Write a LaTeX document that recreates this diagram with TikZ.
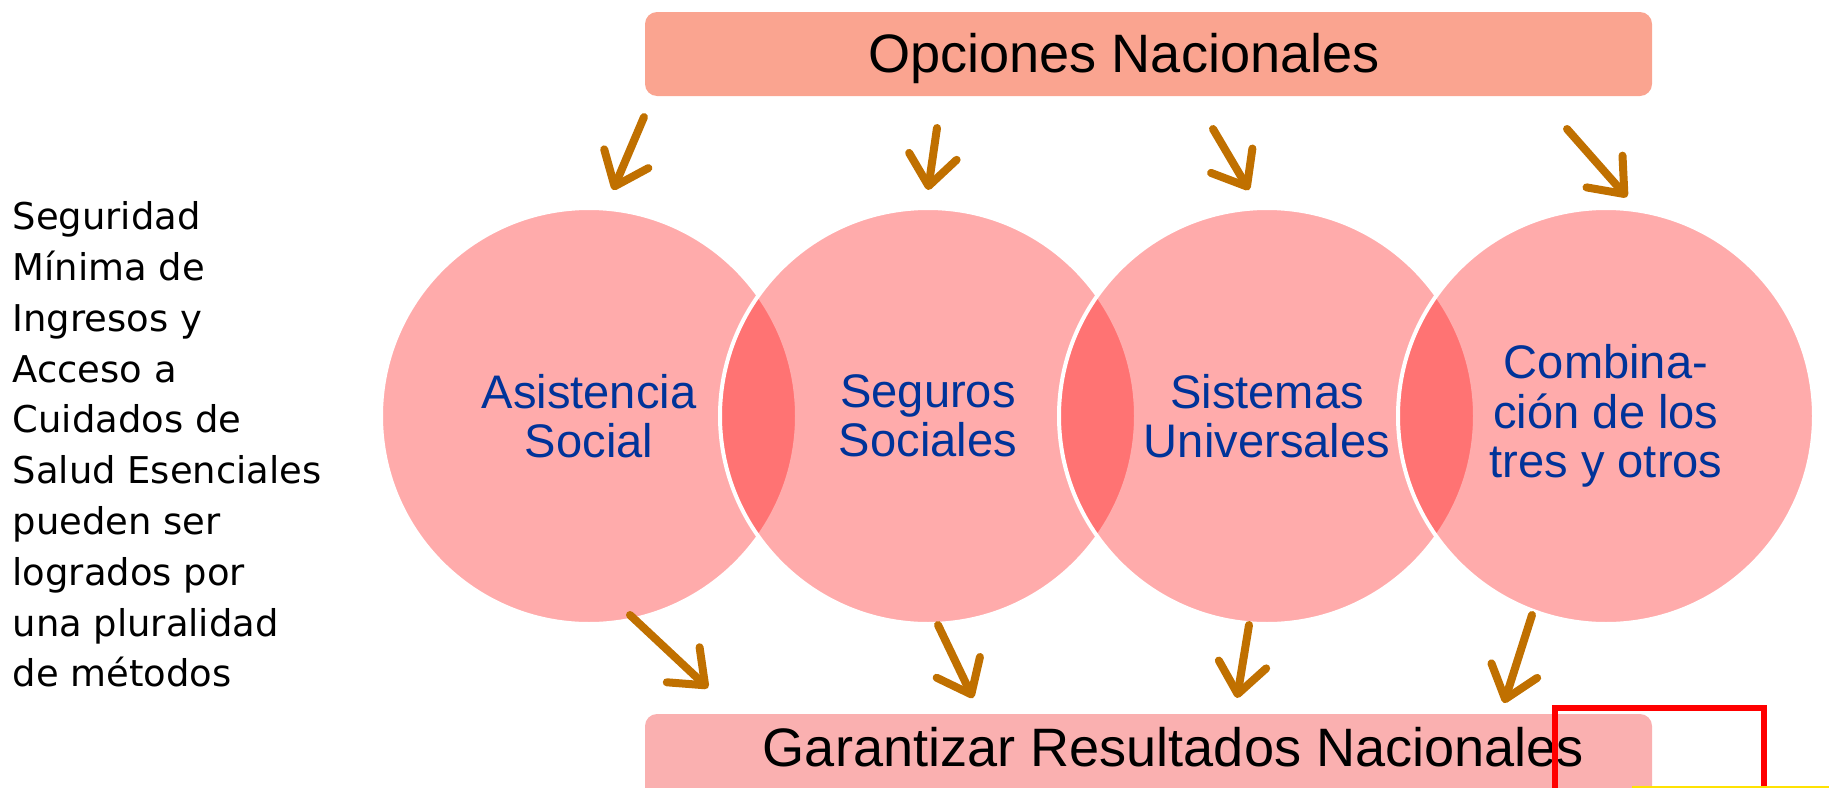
\documentclass[tikz,border=0pt]{standalone}
\usepackage{fontspec}
\setmainfont{Liberation Sans}
\newfontfamily\sidefont{DejaVu Sans}
\usetikzlibrary{positioning,arrows.meta}

\definecolor{marron}{RGB}{192,112,0}
\definecolor{azul}{RGB}{0,51,153}
\definecolor{salmon}{RGB}{250,164,144}
\definecolor{rosado}{RGB}{250,176,176}

\begin{document}
\begin{tikzpicture}[
    caja/.style   ={rectangle, rounded corners=0.12cm, minimum width=10.07cm, inner sep=0pt},
    titulo/.style ={anchor=base, inner sep=0pt, font=\fontsize{15.4}{17}\selectfont},
    metodo/.style ={circle, minimum size=4.16cm, inner sep=0pt, outer sep=0pt,
                    fill=red, fill opacity=0.33, text opacity=1,
                    draw=white, draw opacity=1, line width=0.4mm,
                    text=azul, align=center, font=\fontsize{13.4}{14.1}\selectfont},
    flecha/.style ={draw=marron, line width=0.8mm, line cap=round,
                    -{Straight Barb[length=3mm,width=4.8mm,round]}}
  ]
  \clip (0,0) rectangle (18.29,7.87);

  % Define nodes
  \node[caja, fill=salmon, minimum height=0.84cm]  (opciones)  at (11.485,7.33) {};
  \node[titulo]                                    (opctxt)    at (11.24,7.15)  {Opciones Nacionales};
  \node[caja, fill=rosado, minimum height=1.0cm]   (garantia)  at (11.485,0.23) {};
  \node[titulo]                                    (gartxt)    at (11.735,0.21) {Garantizar Resultados Nacionales};

  \node[metodo]                                    (asist)     at (5.89,3.71)   {Asistencia\\Social};
  \node[metodo, right=-0.77cm of asist]            (seguros)   {Seguros\\Sociales};
  \node[metodo, right=-0.77cm of seguros]          (sistemas)  {Sistemas\\Universales};
  \node[metodo, right=-0.77cm of sistemas]         (combi)     {Combina-\\ción de los\\tres y otros};

  \node[anchor=north west, inner sep=0pt, align=left,
        font=\sidefont\fontsize{10.5}{14.45}\selectfont] (lado) at (0.12,5.86)
       {Seguridad\\Mínima de\\Ingresos y\\Acceso a\\Cuidados de\\Salud Esenciales\\pueden ser\\logrados por\\una pluralidad\\de métodos};

  % Arrow ends
  \coordinate (t1a) at (6.44,6.70);  \coordinate (t1b) at (6.13,5.97);
  \coordinate (t2a) at (9.37,6.59);  \coordinate (t2b) at (9.28,5.97);
  \coordinate (t3a) at (12.13,6.58); \coordinate (t3b) at (12.49,5.97);
  \coordinate (t4a) at (15.67,6.58); \coordinate (t4b) at (16.27,5.90);
  \coordinate (b1a) at (6.30,1.72);  \coordinate (b1b) at (7.08,0.99);
  \coordinate (b2a) at (9.38,1.62);  \coordinate (b2b) at (9.73,0.89);
  \coordinate (b3a) at (12.49,1.62); \coordinate (b3b) at (12.37,0.89);
  \coordinate (b4a) at (15.32,1.72); \coordinate (b4b) at (15.04,0.84);

  % Connect the nodes
  \draw[flecha] (t1a) -- (t1b);
  \draw[flecha] (t2a) -- (t2b);
  \draw[flecha] (t3a) -- (t3b);
  \draw[flecha] (t4a) -- (t4b);
  \draw[flecha] (b1a) -- (b1b);
  \draw[flecha] (b2a) -- (b2b);
  \draw[flecha] (b3a) -- (b3b);
  \draw[flecha] (b4a) -- (b4b);

  % Marks at the lower edge
  \draw[red, line width=0.6mm] (15.55,-0.3) -- (15.55,0.79) -- (17.64,0.79) -- (17.64,-0.3);
  \draw[yellow!85!orange, line width=0.3mm] (16.32,0) -- (18.29,0);
\end{tikzpicture}
\end{document}
